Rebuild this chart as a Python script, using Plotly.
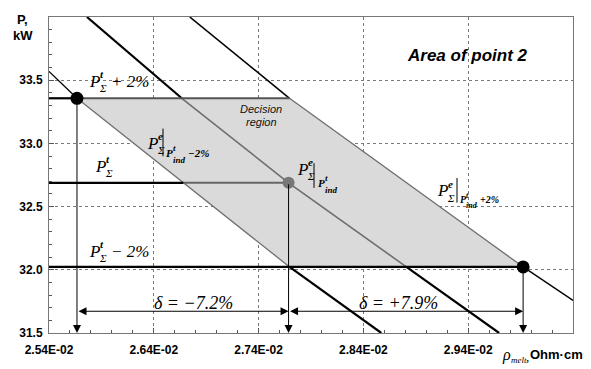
import numpy as np
import plotly.graph_objects as go

# ---------------- data ----------------
x_tick_vals = [0.0254, 0.0264, 0.0274, 0.0284, 0.0294]
x_tick_text = ["2.54E-02", "2.64E-02", "2.74E-02", "2.84E-02", "2.94E-02"]
y_tick_vals = [31.5, 32.0, 32.5, 33.0, 33.5]
y_tick_text = ["31.5", "32.0", "32.5", "33.0", "33.5"]
x_range = [0.0254, 0.0304]
y_range = [31.5, 34.0]

# power levels  P_t + 2%, P_t, P_t - 2%
P_hi, P_mid, P_lo = 33.357, 32.688, 32.023
# resistivity points (black, gray, black dots)
rho_lo, rho_mid, rho_hi = 0.025667, 0.027686, 0.029924

# characteristic curves P_e(rho)
lineA_x = [0.02540, 0.025667, 0.027695, 0.028571]          # P_ind - 2%
lineA_y = [33.570, 33.357, 32.023, 31.5]
lineB_x = [0.025762, 0.026667, 0.027686, 0.028810, 0.029695]  # P_ind
lineB_y = [34.0, 33.357, 32.688, 32.023, 31.5]
lineC_x = [0.026743, 0.027695, 0.029924, 0.030400]          # P_ind + 2%
lineC_y = [34.0, 33.357, 32.023, 31.758]

# decision region polygon
region_x = [rho_lo, 0.027695, rho_hi, 0.027695, rho_lo]
region_y = [P_hi, P_hi, P_lo, P_lo, P_hi]

dim_y = 31.672          # level of the dimension arrows
delta_lo_text = "δ = −7.2%"
delta_hi_text = "δ = +7.9%"

# ---------------- figure ----------------
W, H = 591, 369
L, R, T, B = 49, 573, 17, 337
PW, PH = R - L, B - T
SERIF = "Liberation Serif"
SANS = "Liberation Sans"

fig = go.Figure()

# region fill
fig.add_trace(go.Scatter(x=region_x, y=region_y, mode="lines", fill="toself",
                         fillcolor="#dadada", line=dict(width=0), hoverinfo="skip"))


def seg(xs, ys, color, width):
    fig.add_trace(go.Scatter(x=xs, y=ys, mode="lines",
                             line=dict(color=color, width=width), hoverinfo="skip"))


# line A: black outside region, gray on region edge
seg(lineA_x[0:2], lineA_y[0:2], "black", 1.3)
seg(lineA_x[1:3], lineA_y[1:3], "#6e6e6e", 1.3)
seg(lineA_x[2:4], lineA_y[2:4], "black", 2.2)
# line B
seg(lineB_x[0:2], lineB_y[0:2], "black", 2.2)
seg(lineB_x[1:4], lineB_y[1:4], "#6e6e6e", 1.6)
seg(lineB_x[3:5], lineB_y[3:5], "black", 2.2)
# line C
seg(lineC_x[0:2], lineC_y[0:2], "black", 1.6)
seg(lineC_x[1:3], lineC_y[1:3], "#6e6e6e", 1.3)
seg(lineC_x[2:4], lineC_y[2:4], "black", 1.3)

# horizontal levels
seg([x_range[0], rho_lo], [P_hi, P_hi], "black", 2.2)
seg([rho_lo, region_x[1]], [P_hi, P_hi], "#555555", 2.0)
x_cross_mid = float(np.interp(-P_mid, [-v for v in lineA_y], lineA_x))
seg([x_range[0], x_cross_mid], [P_mid, P_mid], "black", 2.2)
seg([x_cross_mid, rho_mid], [P_mid, P_mid], "#666666", 2.0)
seg([x_range[0], rho_hi], [P_lo, P_lo], "black", 2.2)

# points
fig.add_trace(go.Scatter(x=[rho_lo, rho_hi], y=[P_hi, P_lo], mode="markers",
                         marker=dict(color="black", size=13), hoverinfo="skip"))
fig.add_trace(go.Scatter(x=[rho_mid], y=[P_mid], mode="markers",
                         marker=dict(color="#777777", size=12), hoverinfo="skip"))

annotations = []

# vertical arrows to the x axis
for rx, py in [(rho_lo, P_hi), (rho_mid, P_mid), (rho_hi, P_lo)]:
    annotations.append(dict(x=rx, y=y_range[0], ax=rx, ay=py, xref="x", yref="y",
                            axref="x", ayref="y", text="", showarrow=True,
                            arrowhead=2, arrowsize=1.6, arrowwidth=1, arrowcolor="black",
                            standoff=0, startstandoff=0))
# dimension arrows
for x0, x1 in [(rho_lo, rho_mid), (rho_mid, rho_hi)]:
    annotations.append(dict(x=x1, y=dim_y, ax=x0, ay=dim_y, xref="x", yref="y",
                            axref="x", ayref="y", text="", showarrow=True,
                            arrowhead=2, startarrowhead=2, arrowside="end+start",
                            arrowsize=1.6, startarrowsize=1.6, arrowwidth=1,
                            arrowcolor="black", standoff=0, startstandoff=0))


def ann(px, py, text, size, family=SERIF, xanchor="left", color="black", align="center"):
    annotations.append(dict(xref="paper", yref="paper", x=(px - L) / PW, y=(B - py) / PH,
                            text=text, showarrow=False, xanchor=xanchor, yanchor="middle",
                            align=align,
                            font=dict(family=family, size=size, color=color), borderpad=0))


def psigma(px, py, sup, size=17):
    # P with stacked superscript / subscript Σ
    ann(px, py, "<i>P</i>", size)
    ann(px + 0.6 * size, py, f"<b><i>{sup}</i></b><br><i>Σ</i>", round(0.66 * size),
        align="left")


def pind(px, py, tail="", size=11, tail_dx=22):
    # P with stacked superscript t / subscript ind
    ann(px, py, "<b><i>P</i></b>", size)
    ann(px + 0.62 * size, py + 1, "<b><i>t</i></b><br><b><i>ind</i></b>", round(0.8 * size),
        align="left")
    if tail:
        ann(px + tail_dx, py, f"<b><i>{tail}</i></b>", size)


shapes = []


def bar(px, py0, py1):
    shapes.append(dict(type="line", xref="paper", yref="paper",
                       x0=(px - L) / PW, x1=(px - L) / PW,
                       y0=(B - py0) / PH, y1=(B - py1) / PH,
                       line=dict(color="black", width=1)))


psigma(88, 82, "t")
ann(110, 82, "<i>+ 2%</i>", 17)
psigma(94, 168, "t")
psigma(88, 254, "t")
ann(110, 254, "<i>− 2%</i>", 17)

psigma(146, 145, "e")
bar(163, 130, 158)
pind(165, 155, "−2%", size=11, tail_dx=22)

psigma(296, 171, "e")
bar(314, 165, 190)
pind(317, 185, size=11)

psigma(436, 193, "e")
bar(457, 180, 205)
pind(459, 202, "+2%", size=10, tail_dx=20)

ann(261, 110, "<i>Decision</i>", 11, family=SANS, xanchor="center", color="#111")
ann(261, 123, "<i>region</i>", 11, family=SANS, xanchor="center", color="#111")

ann(467, 56, "<b><i>Area of point 2</i></b>", 17, family=SANS, xanchor="center")

ann(193, 307, f"<i>{delta_lo_text}</i>", 18, xanchor="center")
ann(398, 307, f"<i>{delta_hi_text}</i>", 18, xanchor="center")

# axis titles
ann(22, 20, "<b>P,</b>", 13, family=SANS, xanchor="center")
ann(23, 36, "<b>kW</b>", 13, family=SANS, xanchor="center")
ann(501, 359, "<i>ρ</i>", 16, family=SERIF)
ann(510, 364, "<i>melt</i>", 9, family=SERIF)
ann(525, 361, ",", 13, family=SERIF)
ann(584, 359, "<b>Ohm·cm</b>", 13, family=SANS, xanchor="right")

fig.update_layout(
    width=W, height=H, margin=dict(l=L, r=W - R, t=T, b=H - B),
    paper_bgcolor="white", plot_bgcolor="white", showlegend=False,
    annotations=annotations, shapes=shapes,
    xaxis=dict(range=x_range, tickvals=x_tick_vals, ticktext=x_tick_text,
               tickfont=dict(family=SANS, size=12, color="black", weight="bold"),
               showgrid=True, gridcolor="#7a7a7a", griddash="dot", gridwidth=1,
               showline=True, linecolor="#777", linewidth=1, mirror=True,
               ticks="inside", ticklen=5, tickcolor="#555", zeroline=False,
               ticklabelstandoff=6,
               minor=dict(dtick=0.0002, tick0=0.0254, ticks="inside", ticklen=3,
                          tickcolor="#555", showgrid=False)),
    yaxis=dict(range=y_range, tickvals=y_tick_vals, ticktext=y_tick_text,
               tickfont=dict(family=SANS, size=12, color="black", weight="bold"),
               showgrid=True, gridcolor="#7a7a7a", griddash="dot", gridwidth=1,
               showline=True, linecolor="#777", linewidth=1, mirror=True,
               ticks="inside", ticklen=5, tickcolor="#555", zeroline=False,
               ticklabelstandoff=3,
               minor=dict(dtick=0.1, tick0=31.5, ticks="inside", ticklen=3,
                          tickcolor="#555", showgrid=False)),
)

fig.write_html("out.html")
